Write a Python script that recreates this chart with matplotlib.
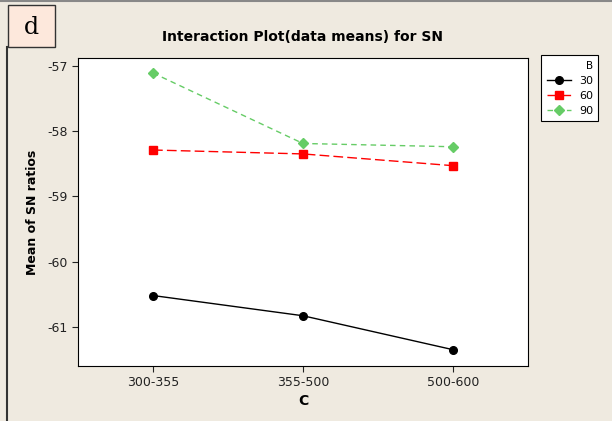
import matplotlib
matplotlib.use("Agg")
import matplotlib.pyplot as plt
from matplotlib.lines import Line2D
from matplotlib.patches import Rectangle

levels_c = ["300-355", "355-500", "500-600"]
b30 = [-60.52, -60.83, -61.35]
b60 = [-58.29, -58.35, -58.53]
b90 = [-57.11, -58.19, -58.24]
yticks = [-57, -58, -59, -60, -61]

plt.rcParams["axes.unicode_minus"] = False

bg = "#efeae0"
fig = plt.figure(figsize=(6.12, 4.21), dpi=100, facecolor=bg)
ax = fig.add_axes([78/612, 1-366/421, 450/612, 308/421])
ax.set_facecolor("white")

x = list(range(len(levels_c)))
l1, = ax.plot(x, b30, color="black", marker="o", ms=5.5, lw=1, ls="-")
l2, = ax.plot(x, b60, color="#ff0000", marker="s", ms=5.5, lw=1, ls=(0, (7, 3)))
l3, = ax.plot(x, b90, color="#66cc66", marker="D", ms=5, lw=1, ls=(0, (4, 3)))

ax.set_xlim(-0.5, 2.5)
ax.set_ylim(-61.6, -56.88)
ax.set_xticks(x)
ax.set_xticklabels(levels_c)
ax.set_yticks(yticks)
ax.tick_params(labelsize=9, length=4, width=0.8, colors="#222222")
for s in ax.spines.values():
    s.set_linewidth(0.8)
ax.set_xlabel("C", fontsize=10, fontweight="bold", labelpad=3)
ax.set_ylabel("Mean of SN ratios", fontsize=9, fontweight="bold", labelpad=6)
ax.set_title("Interaction Plot(data means) for SN", fontsize=10, fontweight="bold", pad=12)

leg = fig.legend([l1, l2, l3], ["30", "60", "90"], title="B",
                 loc="upper left", bbox_to_anchor=(541/612, 1-55/421), borderaxespad=0,
                 fontsize=8, title_fontsize=7.5, frameon=True, fancybox=False,
                 edgecolor="black", facecolor="white", framealpha=1, handlelength=2.2,
                 handletextpad=0.7, alignment="right", borderpad=0.5, labelspacing=0.45)
leg.get_frame().set_linewidth(0.8)

# label box "d"
fig.patches.append(Rectangle((8/612, 1-47/421), 47/612, 42/421, transform=fig.transFigure,
                             facecolor="#fde8dc", edgecolor="#333333", lw=1))
fig.text(31/612, 1-27/421, "d", fontsize=17, family="DejaVu Serif", ha="center", va="center")
fig.add_artist(Line2D([7/612, 7/612], [0, 1-47/421], color="#333333", lw=1.5))
fig.add_artist(Line2D([0, 1], [0.998, 0.998], color="#888888", lw=1.5))

fig.savefig("out.png", dpi=100, facecolor=bg)
